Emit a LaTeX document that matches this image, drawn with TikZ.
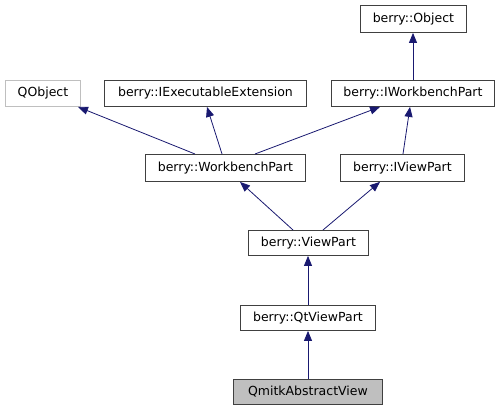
\documentclass[tikz,border=0pt]{standalone}
\usepackage{fontspec}
\setmainfont{DejaVu Sans}
\usetikzlibrary{arrows.meta,calc}
\definecolor{edgec}{HTML}{191970}
\definecolor{boxc}{HTML}{404040}
\definecolor{grayb}{HTML}{BFBFBF}
\begin{document}
\begin{tikzpicture}[x=1pt,y=-1pt,
  cls/.style={draw=boxc,line width=0.9pt,fill=white,inner sep=0pt,anchor=north west,font=\fontsize{12.5}{14}\selectfont,text height=9.5pt,text depth=2.5pt},
  inh/.style={draw=edgec,line width=0.8pt,-{Triangle[length=10pt,width=8pt,fill=edgec]}}]
\useasboundingbox (0,0) rectangle (501,411);
\node[cls,minimum width=106pt,minimum height=27pt] (obj) at (360,5) {berry::Object};
\node[cls,minimum width=75pt,minimum height=26pt,draw=grayb] (qobj) at (5,80) {QObject};
\node[cls,minimum width=202pt,minimum height=26pt] (iexe) at (104,80) {berry::IExecutableExtension};
\node[cls,minimum width=163pt,minimum height=26pt] (iwp) at (331,80) {berry::IWorkbenchPart};
\node[cls,minimum width=160pt,minimum height=27pt] (wp) at (145,154) {berry::WorkbenchPart};
\node[cls,minimum width=124pt,minimum height=27pt] (ivp) at (340,154) {berry::IViewPart};
\node[cls,minimum width=120pt,minimum height=25pt] (vp) at (248,230) {berry::ViewPart};
\node[cls,minimum width=135pt,minimum height=25pt] (qvp) at (240,305) {berry::QtViewPart};
\node[cls,minimum width=149pt,minimum height=25pt,fill=grayb] (qav) at (233,379) {QmitkAbstractView};
% edges
\draw[inh] ($(iwp.north west)+(82,0)$) -- ($(obj.south west)+(53,0)$);
\draw[inh] ($(wp.north west)+(50,0)$) -- ($(qobj.south west)+(73,0)$);
\draw[inh] ($(wp.north west)+(77,0)$) -- ($(iexe.south west)+(103,0)$);
\draw[inh] ($(wp.north west)+(110,0)$) -- ($(iwp.south west)+(49,0)$);
\draw[inh] ($(ivp.north west)+(63,0)$) -- ($(iwp.south west)+(79,0)$);
\draw[inh] ($(vp.north west)+(45,0)$) -- ($(wp.south west)+(95,0)$);
\draw[inh] ($(vp.north west)+(75,0)$) -- ($(ivp.south west)+(40,0)$);
\draw[inh] ($(qvp.north west)+(68,0)$) -- ($(vp.south west)+(60,0)$);
\draw[inh] ($(qav.north west)+(75,0)$) -- ($(qvp.south west)+(68,0)$);
\end{tikzpicture}
\end{document}
